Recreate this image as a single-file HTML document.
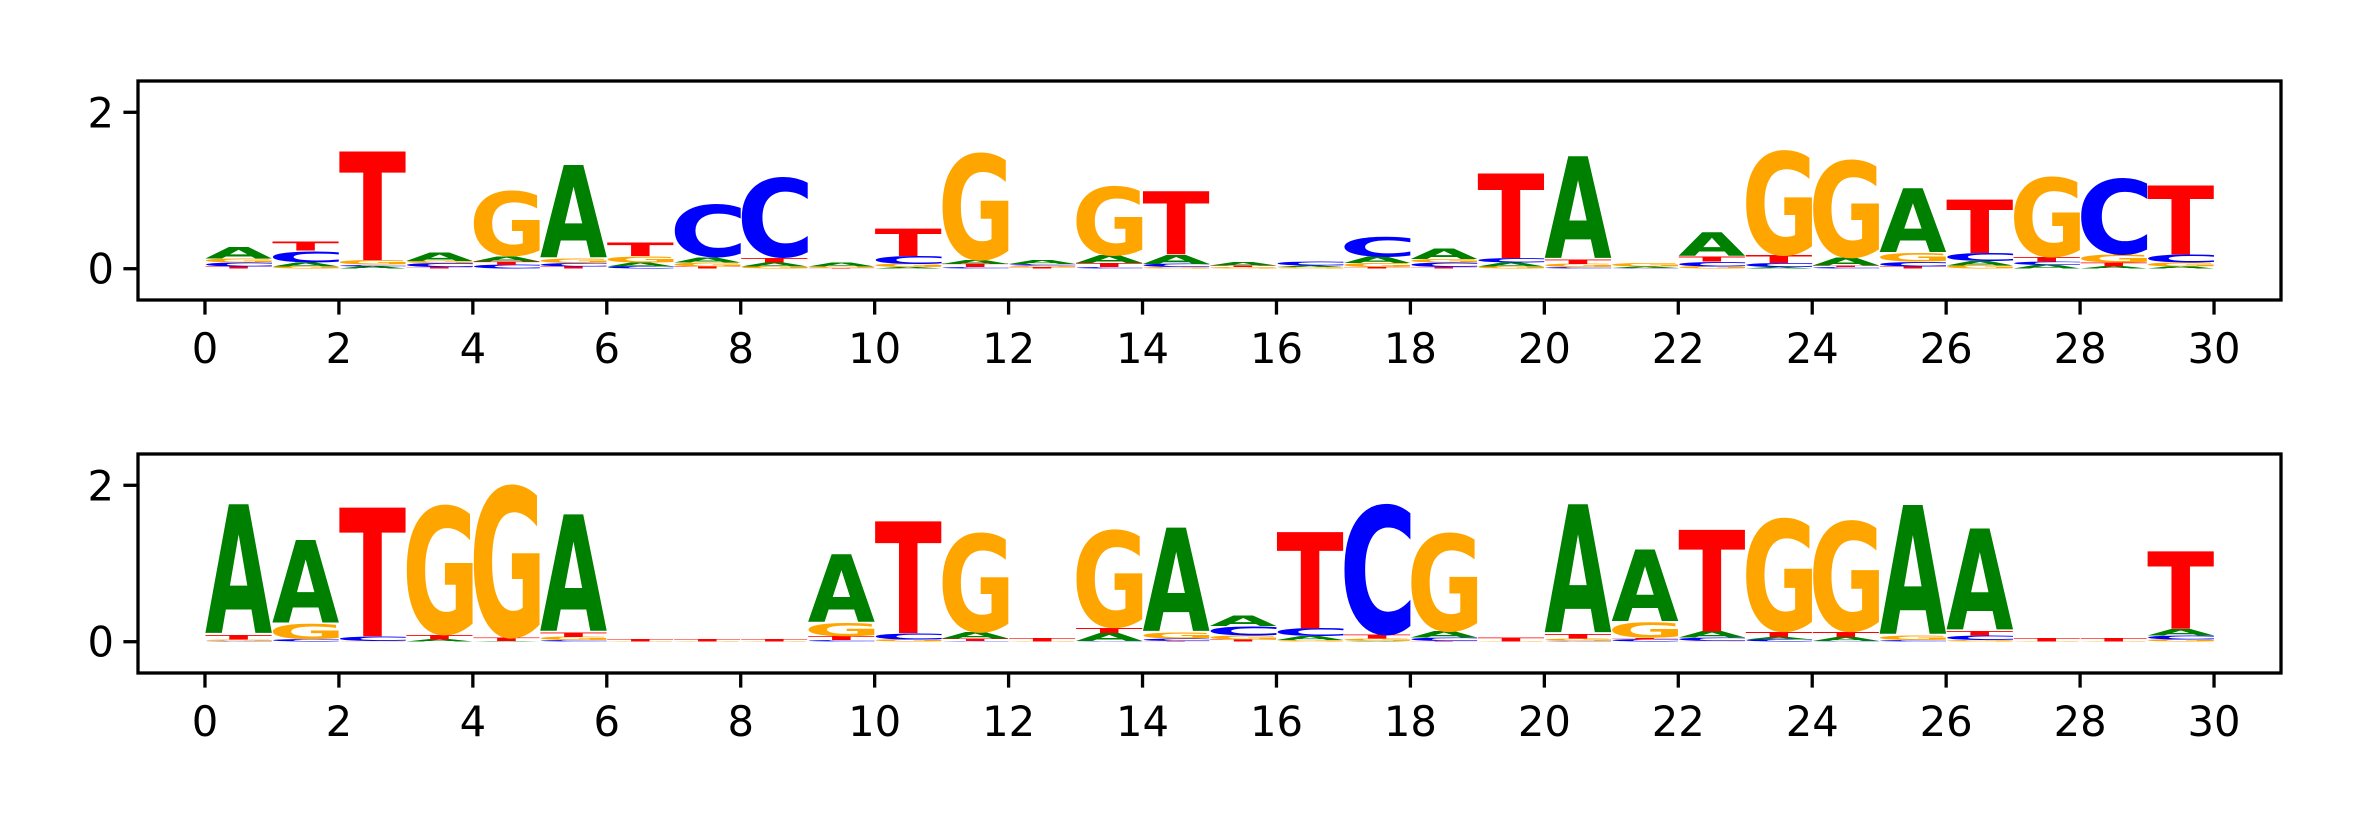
<!DOCTYPE html>
<html><head><meta charset="utf-8"><style>
html,body{margin:0;padding:0;background:#fff;}
svg{display:block;}
text.tick{font-family:"DejaVu Sans","Liberation Sans",sans-serif;font-size:41.7px;fill:#000;}
</style></head><body>
<svg id="chart" width="2362" height="826" viewBox="0 0 2362 826" xmlns="http://www.w3.org/2000/svg"></svg>
<script>
// Data: per position, stacked letters bottom -> top as [letter, height in bits]
const positions = Array.from({length:30},(_,i)=>i);
const xTicks = [0,2,4,6,8,10,12,14,16,18,20,22,24,26,28,30];
const yTicks = [0,2];
const topLogo = [
 [['T',.03],['C',.05],['G',.05],['A',.15]],
 [['G',.03],['A',.05],['C',.15],['T',.12]],
 [['A',.03],['C',.02],['G',.06],['T',1.41]],
 [['T',.02],['C',.05],['G',.03],['A',.11]],
 [['C',.05],['T',.04],['A',.07],['G',.85]],
 [['T',.03],['C',.04],['G',.06],['A',1.2]],
 [['C',.03],['A',.05],['G',.08],['T',.18]],
 [['T',.03],['G',.05],['A',.07],['C',.68]],
 [['G',.03],['A',.05],['T',.06],['C',1.04]],
 [['T',.01],['G',.02],['A',.05]],
 [['A',.02],['G',.04],['C',.1],['T',.35]],
 [['C',.02],['T',.04],['A',.05],['G',1.39]],
 [['T',.02],['G',.02],['C',.02],['A',.05]],
 [['C',.02],['T',.05],['A',.1],['G',.9]],
 [['G',.02],['C',.04],['A',.12],['T',.82]],
 [['G',.02],['T',.02],['A',.04]],
 [['G',.02],['A',.02],['C',.05]],
 [['T',.02],['G',.05],['A',.08],['C',.26]],
 [['T',.02],['C',.06],['G',.04],['A',.13]],
 [['G',.03],['A',.05],['C',.06],['T',1.1]],
 [['C',.02],['G',.04],['T',.06],['A',1.32]],
 [['C',.01],['A',.02],['G',.04]],
 [['G',.03],['C',.06],['T',.07],['A',.3]],
 [['A',.02],['C',.05],['T',.1],['G',1.36]],
 [['C',.02],['T',.02],['A',.1],['G',1.27]],
 [['T',.03],['C',.06],['G',.11],['A',.83]],
 [['G',.04],['A',.06],['C',.1],['T',.69]],
 [['A',.05],['C',.04],['T',.06],['G',1.04]],
 [['A',.03],['T',.05],['G',.1],['C',.99]],
 [['A',.03],['G',.05],['C',.1],['T',.89]]
];
const bottomLogo = [
 [['C',.01],['G',.02],['T',.06],['A',1.67]],
 [['C',.03],['G',.2],['A',1.07]],
 [['G',.01],['C',.06],['T',1.67]],
 [['A',.03],['T',.06],['G',1.68]],
 [['A',.01],['T',.04],['G',1.98]],
 [['C',.02],['G',.04],['T',.06],['A',1.51]],
 [['G',.005],['T',.03]],
 [['G',.005],['T',.03]],
 [['G',.005],['T',.03]],
 [['C',.02],['T',.05],['G',.17],['A',.88]],
 [['G',.03],['C',.08],['T',1.45]],
 [['C',.01],['T',.03],['A',.08],['G',1.29]],
 [['G',.005],['T',.04]],
 [['C',.01],['A',.1],['T',.07],['G',1.27]],
 [['T',.01],['C',.03],['G',.08],['A',1.34]],
 [['T',.03],['G',.05],['C',.12],['A',.13]],
 [['G',.02],['A',.05],['C',.1],['T',1.25]],
 [['A',.01],['G',.03],['T',.05],['C',1.69]],
 [['T',.01],['C',.04],['A',.08],['G',1.28]],
 [['G',.005],['T',.05]],
 [['C',.01],['G',.03],['T',.06],['A',1.66]],
 [['C',.03],['T',.02],['G',.2],['A',.93]],
 [['G',.01],['C',.04],['A',.08],['T',1.32]],
 [['C',.03],['A',.03],['T',.07],['G',1.47]],
 [['C',.01],['A',.05],['T',.07],['G',1.44]],
 [['C',.02],['G',.06],['A',1.67]],
 [['G',.02],['C',.06],['T',.06],['A',1.31]],
 [['G',.005],['T',.04]],
 [['G',.005],['T',.04]],
 [['G',.03],['C',.05],['A',.08],['T',1.0]]
];
const colors = {A:'#008000',C:'#0000ff',G:'#ffa500',T:'#ff0000'};

const NS='http://www.w3.org/2000/svg';
const svg=document.getElementById('chart');
const FONT='bold 100px "DejaVu Sans", sans-serif';
const cv=document.createElement('canvas').getContext('2d');
cv.font=FONT;
const metrics={};
['A','C','G','T'].forEach(l=>{const m=cv.measureText(l);metrics[l]={l:m.actualBoundingBoxLeft,r:m.actualBoundingBoxRight,a:m.actualBoundingBoxAscent,d:m.actualBoundingBoxDescent};});

function mk(tag,attrs,parent){const e=document.createElementNS(NS,tag);for(const k in attrs)e.setAttribute(k,attrs[k]);(parent||svg).appendChild(e);return e;}

const L=138,R=2281,xmin=-1,xmax=31,ymin=-0.4,ymax=2.4;
function drawPanel(data,top,bottom,name){
  const g=mk('g',{});
  
  
  const xs=v=>L+(v-xmin)/(xmax-xmin)*(R-L);
  const ys=v=>bottom-(v-ymin)/(ymax-ymin)*(bottom-top);
  const lg=mk('g',{},g);
  
  
  data.forEach((stack,i)=>{
    let base=0;
    stack.forEach(([ch,h])=>{
      const x0=xs(positions[i]),x1=xs(positions[i]+1);
      const yb=ys(base),yt=ys(base+h);
      base+=h;
      const m=metrics[ch];
      const iw=m.l+m.r, ih=m.a+m.d;
      if(iw<=0||ih<=0||(yb-yt)<0.3)return;
      const sx=(x1-x0)/iw, sy=(yb-yt)/ih;
      const t=mk('text',{transform:`translate(${x0+m.l*sx},${yb-m.d*sy}) scale(${sx},${sy})`,
        style:'font:'+FONT,fill:colors[ch]},lg);
      
      
      t.textContent=ch;
    });
  });
  const frame=mk('rect',{x:L,y:top,width:R-L,height:bottom-top,fill:'none',stroke:'#000','stroke-width':3.3},g);
  
  
  xTicks.forEach(v=>{
    const x=xs(v);
    const tk=mk('line',{x1:x,x2:x,y1:bottom,y2:bottom+14.6,stroke:'#000','stroke-width':3.3},g);
    
    
    const tl=mk('text',{x:x,y:bottom+63,'text-anchor':'middle',class:'tick'},g);
    
    
    tl.textContent=v;
  });
  yTicks.forEach(v=>{
    const y=ys(v);
    const tk=mk('line',{x1:L,x2:L-14.6,y1:y,y2:y,stroke:'#000','stroke-width':3.3},g);
    
    
    const tl=mk('text',{x:L-24,y:y+15,'text-anchor':'end',class:'tick'},g);
    
    
    tl.textContent=v;
  });
}
drawPanel(topLogo,81,300,'top-logo-panel');
drawPanel(bottomLogo,454,673,'bottom-logo-panel');
</script>
</body></html>
